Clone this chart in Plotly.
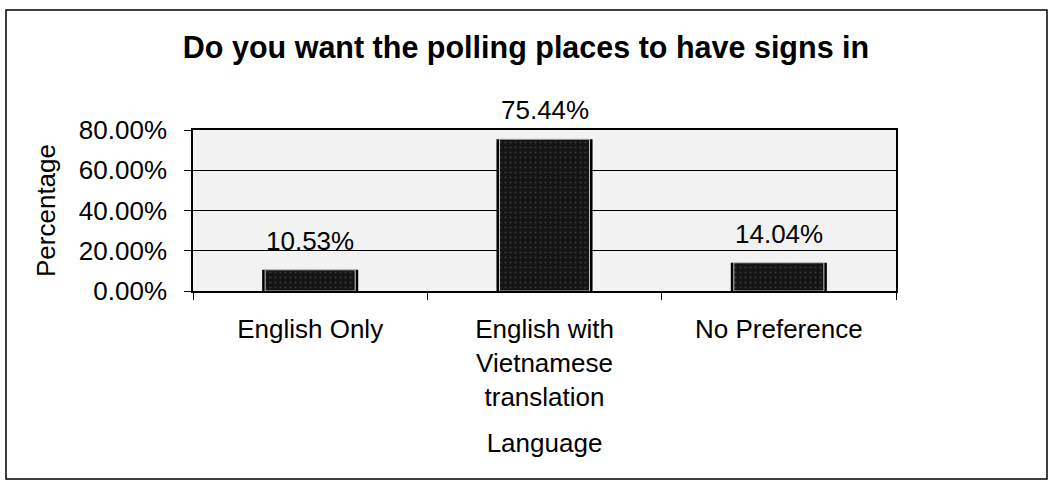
import plotly.graph_objects as go

# Survey results
categories = ["English Only", "English with<br>Vietnamese<br>translation", "No Preference"]
percentages = [10.53, 75.44, 14.04]
y_ticks = [0, 20, 40, 60, 80]
y_tick_labels = ["0.00%", "20.00%", "40.00%", "60.00%", "80.00%"]

W, H = 1052, 482
L, R, T, B = 193, 156, 130, 191
plot_w, plot_h = W - L - R, H - T - B

FONT = "Liberation Sans, Arial, sans-serif"

fig = go.Figure()
# Outer black edge of each bar
fig.add_trace(go.Bar(
    x=categories, y=percentages, width=0.41,
    marker=dict(color="#000000", line=dict(width=0)),
    hoverinfo="skip",
))
# Dark speckled fill with a thin light inner rim
fig.add_trace(go.Bar(
    x=categories, y=percentages, width=0.41 - 6 / 234,
    marker=dict(
        color="#1b1b1b",
        line=dict(color="#c8c8c8", width=1),
        pattern=dict(shape=".", fgcolor="#5a5a5a", bgcolor="#141414",
                     size=5, solidity=0.15),
    ),
    hoverinfo="skip",
))

# Value labels above each bar
for cat, val in zip(categories, percentages):
    fig.add_annotation(
        x=cat, y=val, text=f"{val:.2f}%", showarrow=False,
        yanchor="bottom", yshift=12,
        font=dict(family=FONT, size=26, color="#000000"),
    )

# Frame around the whole chart
def px_x(px):
    return (px - L) / plot_w

def px_y(py):
    return (H - B - py) / plot_h

fig.add_shape(
    type="rect", xref="paper", yref="paper",
    x0=px_x(6), x1=px_x(1047), y0=px_y(479), y1=px_y(10),
    line=dict(color="#000000", width=1.5), fillcolor="rgba(0,0,0,0)",
    layer="below",
)

fig.update_layout(
    width=W, height=H,
    margin=dict(l=L, r=R, t=T, b=B),
    paper_bgcolor="#ffffff",
    plot_bgcolor="#f2f2f2",
    showlegend=False,
    barmode="overlay",
    font=dict(family=FONT, size=26, color="#000000"),
    title=dict(
        text="<b>Do you want the polling places to have signs in</b>",
        x=0.5, xanchor="center", y=1 - 47 / H, yanchor="middle",
        font=dict(family=FONT, size=30.5, color="#000000"),
    ),
)

fig.update_xaxes(
    type="category",
    tickson="boundaries",
    ticks="outside", ticklen=7, tickcolor="#000000", tickwidth=1,
    showline=True, linecolor="#000000", linewidth=1.5, mirror=True,
    showgrid=False,
    ticklabelstandoff=14,
    tickfont=dict(family=FONT, size=26, color="#000000"),
    title=dict(text="Language", standoff=23,
               font=dict(family=FONT, size=26, color="#000000")),
)

fig.update_yaxes(
    range=[0, 80],
    tickvals=y_ticks, ticktext=y_tick_labels,
    ticks="outside", ticklen=7, tickcolor="#000000", tickwidth=1,
    showline=True, linecolor="#000000", linewidth=1.5, mirror=True,
    showgrid=True, gridcolor="#000000", gridwidth=1.2,
    zeroline=False,
    ticklabelstandoff=12,
    tickfont=dict(family=FONT, size=26, color="#000000"),
    title=dict(text="Percentage", standoff=16,
               font=dict(family=FONT, size=26, color="#000000")),
)

fig.write_html("out.html")
